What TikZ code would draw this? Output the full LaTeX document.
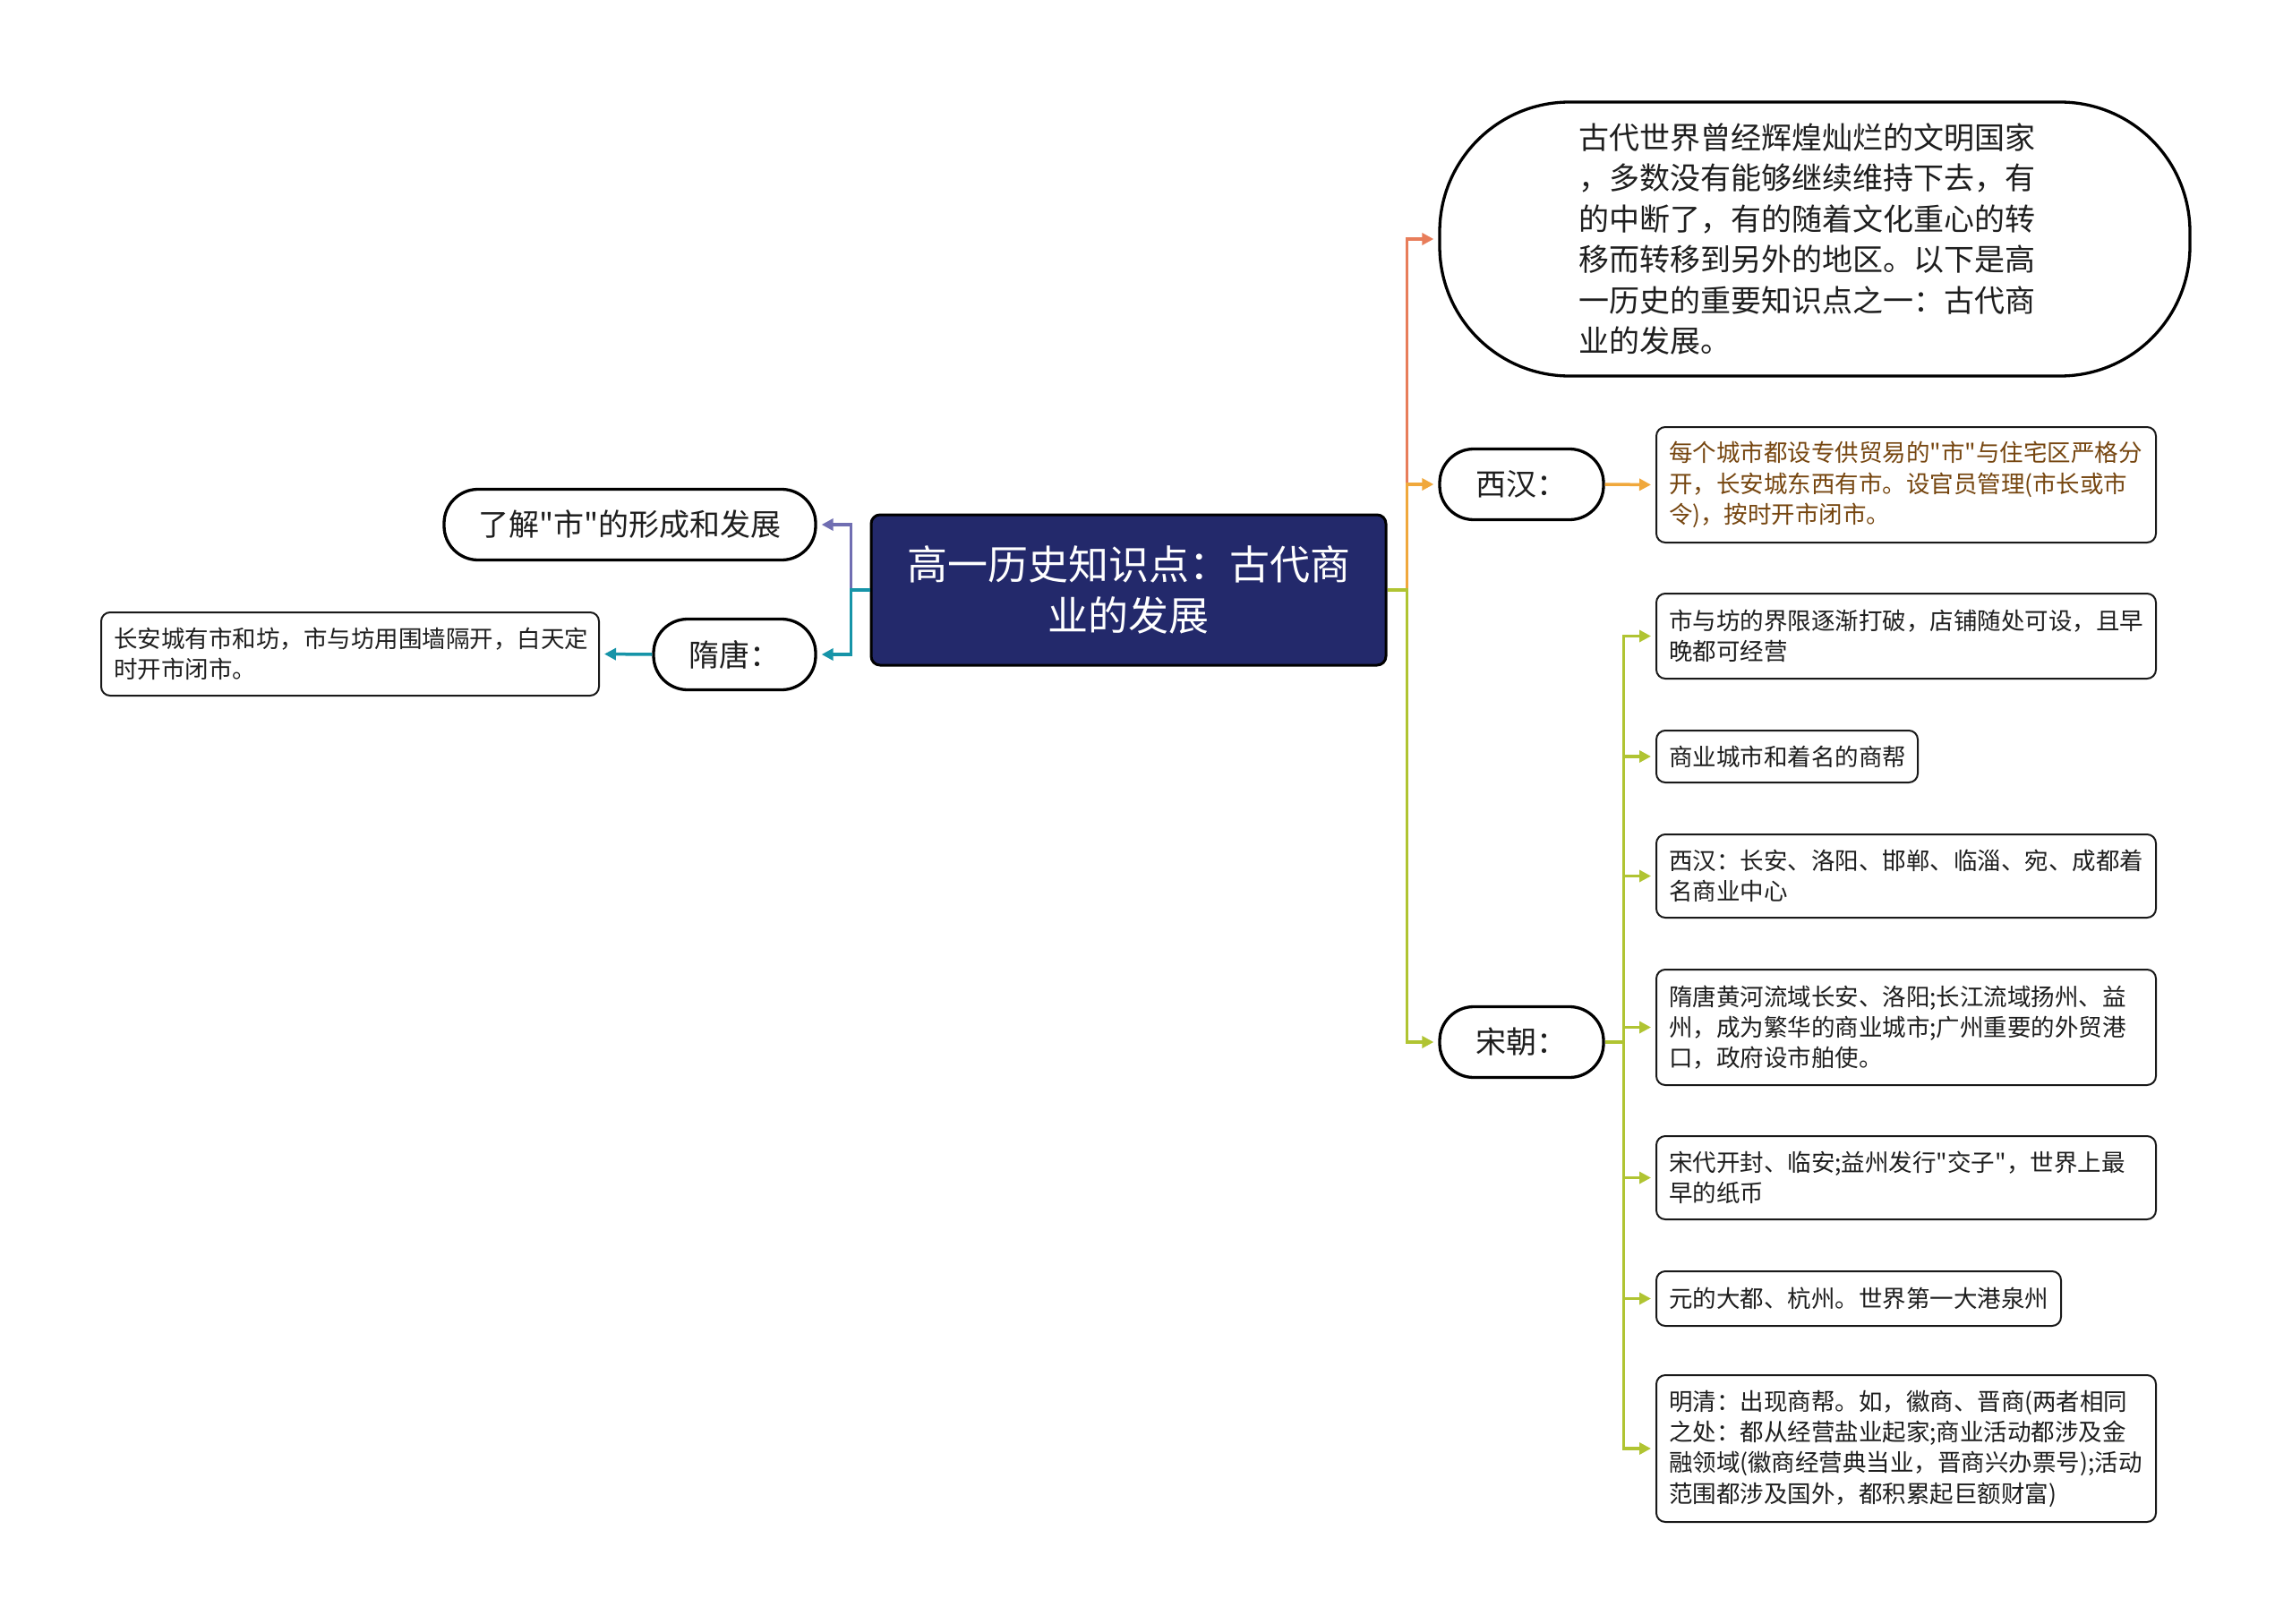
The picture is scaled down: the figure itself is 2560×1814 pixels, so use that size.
\documentclass[tikz,border=0pt]{standalone}
\usepackage{fontspec}
\setmainfont{Noto Sans CJK SC}
\setmonofont{Noto Sans CJK SC}
\newcommand\sq{\texttt{"}}
\usetikzlibrary{arrows.meta}
\definecolor{cnavy}{RGB}{35,41,107}
\definecolor{csalmon}{RGB}{232,125,90}
\definecolor{corange}{RGB}{240,168,60}
\definecolor{cgreen}{RGB}{176,196,50}
\definecolor{cpurple}{RGB}{112,110,178}
\definecolor{cteal}{RGB}{22,148,168}
\definecolor{cbrown}{RGB}{118,70,16}
\definecolor{ctext}{RGB}{30,30,30}
\begin{document}
\begin{tikzpicture}[x=1pt,y=-1pt,
  pill/.style={draw=black,line width=3.3pt,fill=white,rounded corners=38pt,minimum height=79pt,inner sep=0pt,text=ctext,font=\fontsize{34}{40}\selectfont},
  leaf/.style={draw=black!90,line width=2pt,fill=white,rounded corners=10pt,text width=#1,align=left,inner xsep=14pt,inner ysep=0pt,text=ctext,font=\fontsize{26.5}{34.3}\selectfont},
  conn/.style={line width=3.5pt,-{Triangle[length=13pt,width=13pt]},shorten >=5pt},
]
\useasboundingbox[fill=white] (0,0) rectangle (2560,1814);

% central
\node[draw=black,line width=3pt,fill=cnavy,rounded corners=10pt,minimum width=575pt,minimum height=168pt,
  text=white,align=center,font=\fontsize{45}{57}\selectfont] (ct) at (1260.5,659)
  {高一历史知识点：古代商\\业的发展};

% top intro
\node[draw=black,line width=3.3pt,fill=white,rounded corners=145pt,minimum width=838pt,minimum height=306pt,
  text width=528pt,align=left,text=ctext,font=\fontsize{34}{45.4}\selectfont] (top) at (2027,267)
  {古代世界曾经辉煌灿烂的文明国家\\，多数没有能够继续维持下去，有\\的中断了，有的随着文化重心的转\\移而转移到另外的地区。以下是高\\一历史的重要知识点之一：古代商\\业的发展。};

% right branch nodes
\node[pill,minimum width=183pt] (xh) at (1699.5,541) {西汉：};
\node[pill,minimum width=183pt] (song) at (1699.5,1164) {宋朝：};

\node[leaf=530pt,minimum height=129pt,text=cbrown] (xhl) at (2129,541.5)
  {每个城市都设专供贸易的\sq 市\sq 与住宅区严格分\\开，长安城东西有市。设官员管理(市长或市\\令)，按时开市闭市。};

\node[leaf=530pt,minimum height=95pt] (s1) at (2129,710.5)
  {市与坊的界限逐渐打破，店铺随处可设，且早\\晚都可经营};
\node[leaf=264pt,minimum height=58pt] (s2) at (1996,845)
  {商业城市和着名的商帮};
\node[leaf=530pt,minimum height=93pt] (s3) at (2129,978.5)
  {西汉：长安、洛阳、邯郸、临淄、宛、成都着\\名商业中心};
\node[leaf=530pt,minimum height=129pt] (s4) at (2129,1147.5)
  {隋唐黄河流域长安、洛阳;长江流域扬州、益\\州，成为繁华的商业城市;广州重要的外贸港\\口，政府设市舶使。};
\node[leaf=530pt,minimum height=93pt] (s5) at (2129,1315.5)
  {宋代开封、临安;益州发行\sq 交子\sq ，世界上最\\早的纸币};
\node[leaf=424pt,minimum height=61pt] (s6) at (2076,1450.5)
  {元的大都、杭州。世界第一大港泉州};
\node[leaf=530pt,minimum height=164pt] (s7) at (2129,1618)
  {明清：出现商帮。如，徽商、晋商(两者相同\\之处：都从经营盐业起家;商业活动都涉及金\\融领域(徽商经营典当业，晋商兴办票号);活动\\范围都涉及国外，都积累起巨额财富)};

% left branch nodes
\node[pill,minimum width=415pt] (lj) at (703.5,586) {了解\sq 市\sq 的形成和发展};
\node[pill,minimum width=181pt] (st) at (820.5,731) {隋唐：};
\node[leaf=528pt,minimum height=93pt] (stl) at (391,730.5)
  {长安城有市和坊，市与坊用围墙隔开，白天定\\时开市闭市。};

% connectors right
\draw[conn,csalmon] (ct.east) -- ++(22,0) |- (top.west);
\draw[conn,corange] (ct.east) -- ++(22,0) |- (xh.west);
\draw[conn,cgreen] (ct.east) -- ++(22,0) |- (song.west);
\draw[conn,corange] (xh.east) -- (xhl.west);
\foreach \n in {s1,s2,s3,s4,s5,s6,s7}
  \draw[conn,cgreen] (song.east) -- ++(21,0) |- (\n.west);

% connectors left
\draw[conn,cpurple] (ct.west) -- ++(-21,0) |- (lj.east);
\draw[conn,cteal] (ct.west) -- ++(-21,0) |- (st.east);
\draw[conn,cteal] (st.west) -- (stl.east);
\end{tikzpicture}
\end{document}
